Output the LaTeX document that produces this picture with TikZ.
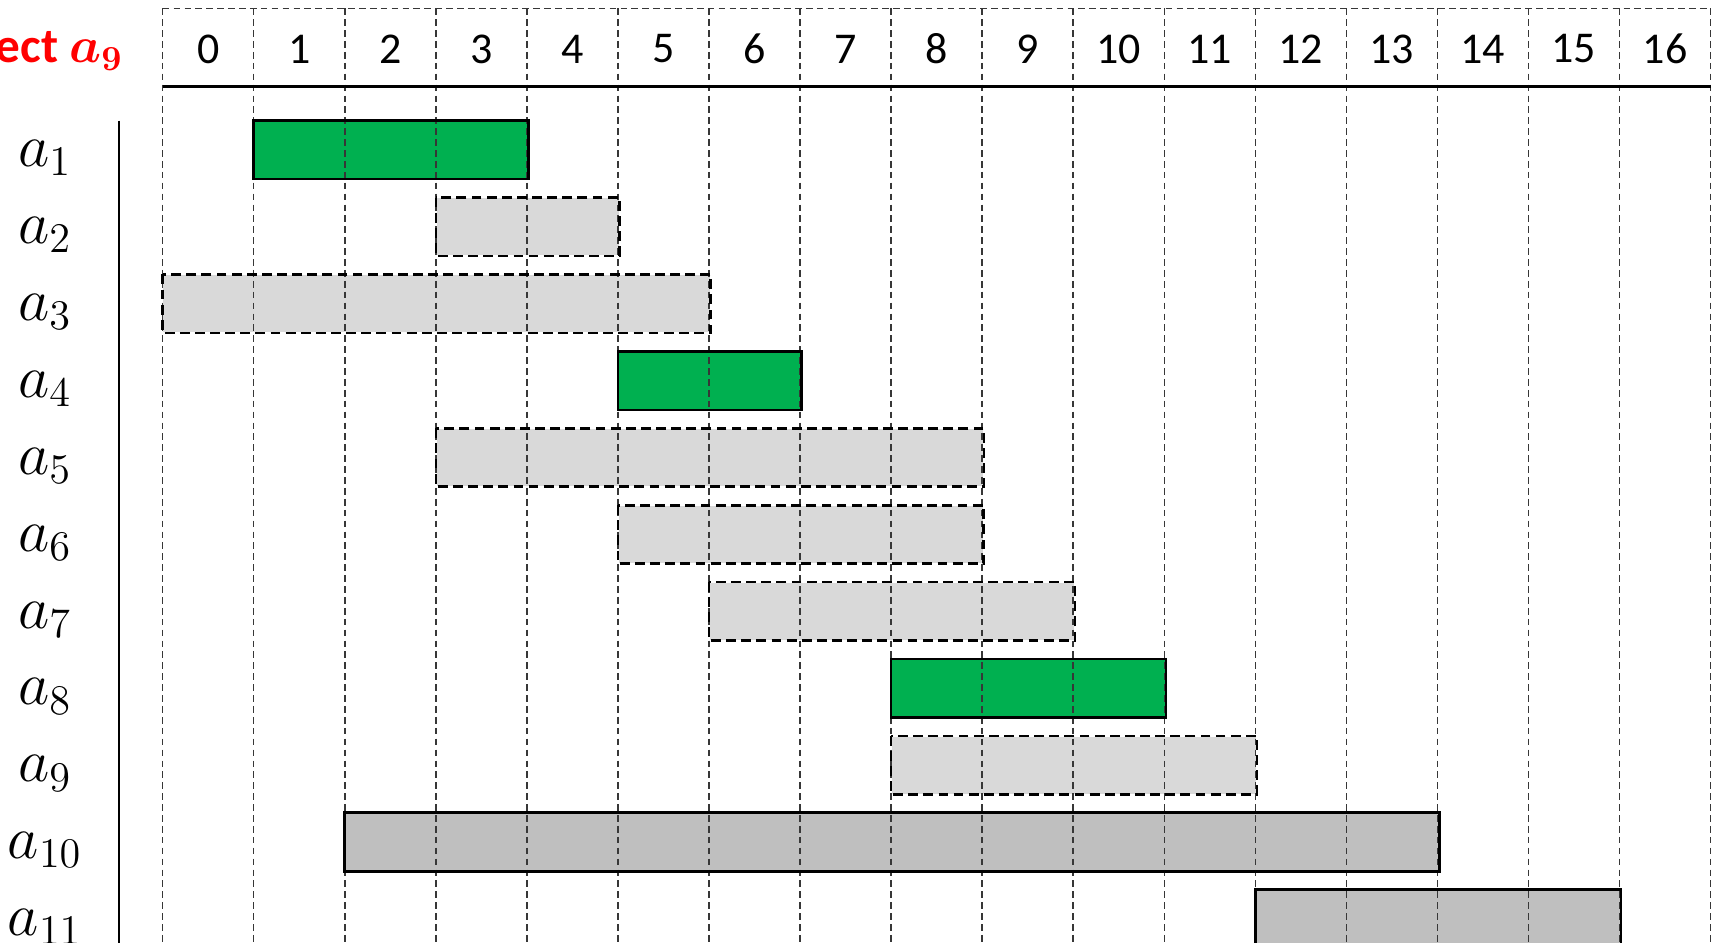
\documentclass[tikz,border=0pt]{standalone}
\usepackage[no-math]{fontspec}
\setmainfont{Carlito}
\usepackage{amsmath,bm}
\definecolor{barGreen}{RGB}{0,176,80}
\definecolor{barLight}{RGB}{217,217,217}
\definecolor{barDark}{RGB}{191,191,191}
\definecolor{gridGray}{RGB}{55,55,55}
\begin{document}
\begin{tikzpicture}[x=0.01cm,y=-0.01cm,
  gridline/.style={draw=gridGray,line width=0.42pt,dash pattern=on 1.9pt off 1.2pt},
  numlbl/.style={font=\fontsize{12.5}{15}\selectfont,inner sep=0pt},
  rowlbl/.style={font=\fontsize{16.5}{19}\selectfont,inner sep=0pt,anchor=base},
  barfill/.style={inner sep=0pt,anchor=north west,minimum height=0.57cm},
  greenfill/.style={barfill,fill=barGreen},
  lightfill/.style={barfill,fill=barLight},
  darkfill/.style={barfill,fill=barDark},
  solidedge/.style={draw=black,line width=0.75pt},
  greenedge/.style={solidedge},
  darkedge/.style={solidedge},
  lightedge/.style={draw=black,line width=0.75pt,dash pattern=on 2.8pt off 1.5pt},
  heavyline/.style={draw=black,line width=0.75pt}]
\clip (0,0) rectangle (1714,943);
\fill[white] (0,0) rectangle (1714,943);
\def\xo{162.7}
\def\cw{91.05}
\def\yo{120.7}
\def\rp{76.9}
% bar fills
\foreach \i/\b/\e/\s in {1/1/4/green,2/3/5/light,3/0/6/light,4/5/7/green,5/3/9/light,6/5/9/light,7/6/10/light,8/8/11/green,9/8/12/light,10/2/14/dark,11/12/16/dark}{
  \node[\s fill,minimum width={(\e-\b)*0.9105cm}] (bar\i) at ({\xo+\b*\cw},{\yo+(\i-1)*\rp}) {};
}
% grid
\foreach \k in {0,...,17}{
  \coordinate (gt\k) at ({\xo+\k*\cw},8.3);
  \coordinate (gb\k) at ({\xo+\k*\cw},943);
  \draw[gridline] (gt\k) -- (gb\k);
}
\draw[gridline] (gt0) -- (gt17);
\coordinate (hl) at (\xo,86.7);
\coordinate (hr) at ({\xo+17*\cw},86.7);
\draw[heavyline] (hl) -- (hr);
% bar edges
\foreach \i/\s in {1/green,2/light,3/light,4/green,5/light,6/light,7/light,8/green,9/light,10/dark,11/dark}{
  \draw[\s edge] (bar\i.north west) rectangle (bar\i.south east);
}
% column numbers
\foreach \k in {0,...,16}{
  \node[numlbl] (n\k) at ({\xo+\k*\cw+\cw/2},49) {\k};
}
% row labels
\foreach \i in {1,...,11}{
  \node[rowlbl] (lab\i) at (45,{\yo+(\i-1)*\rp+46}) {$a_{\i}$};
}
% left axis line
\coordinate (axt) at (119,120.7);
\coordinate (axb) at (119,943);
\draw[heavyline] (axt) -- (axb);
% title
\node[anchor=base east,text=red,inner sep=0pt,font=\bfseries\fontsize{14}{17}\selectfont] (title) at (124,63) {ect $\bm{a}_{\bm{9}}$};
\end{tikzpicture}
\end{document}
